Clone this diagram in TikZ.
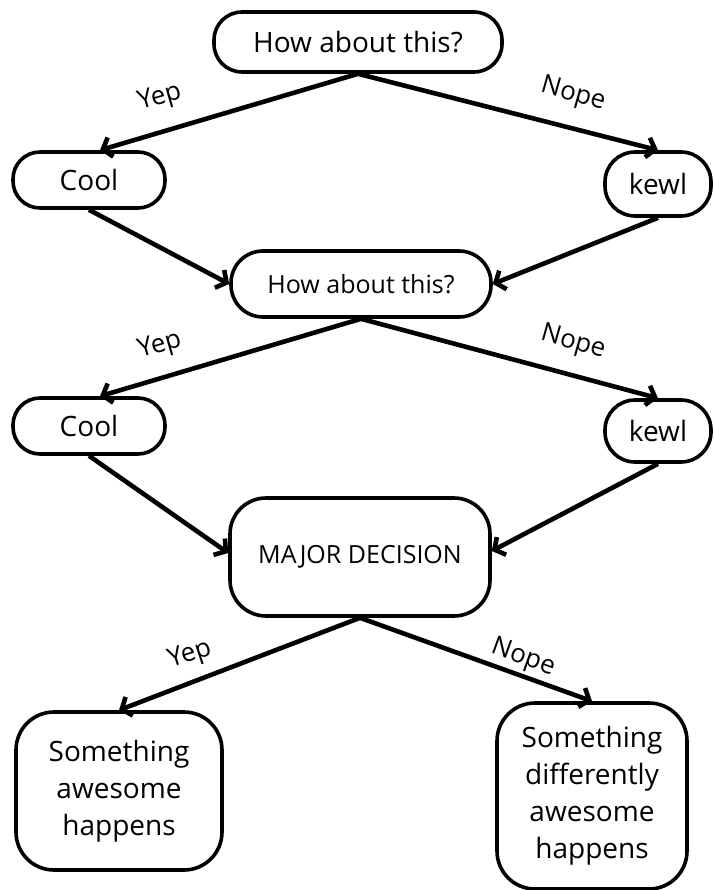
\documentclass[tikz,border=0pt]{standalone}
\usepackage{fontspec}
\setmainfont{Open Sans}
\usetikzlibrary{arrows.meta,calc}
\begin{document}
\begin{tikzpicture}[x=1pt,y=-1pt,
  box/.style={draw=black,line width=3.6pt,rounded corners=#1,inner sep=0pt,align=center},
  big/.style={font=\fontsize{28}{37}\selectfont},
  mid/.style={font=\fontsize{25}{33}\selectfont},
  lab/.style={font=\fontsize{26}{30}\selectfont,inner sep=1pt},
  arr/.style={line width=4.6pt,-{Straight Barb[length=8pt,width=20pt]}}]
\useasboundingbox (0,0) rectangle (713,890);
\node[box=28pt,big,minimum width=288pt,minimum height=60pt] (h1) at (358,42) {How about this?};
\node[box=27pt,big,minimum width=152pt,minimum height=56pt] (c1) at (89,180) {Cool};
\node[box=30pt,big,minimum width=106pt,minimum height=64pt] (k1) at (658,184) {kewl};
\node[box=32pt,mid,minimum width=260pt,minimum height=66pt] (h2) at (361,284) {How about this?};
\node[box=27pt,big,minimum width=152pt,minimum height=56pt] (c2) at (89,426) {Cool};
\node[box=30pt,big,minimum width=106pt,minimum height=62pt] (k2) at (658,431) {kewl};
\node[box=36pt,mid,minimum width=260pt,minimum height=118pt] (m) at (360,557) {MAJOR DECISION};
\node[box=38pt,big,minimum width=206pt,minimum height=158pt] (s1) at (119,791) {Something\\awesome\\happens};
\node[box=38pt,big,minimum width=190pt,minimum height=186pt] (s2) at (592,796) {Something\\differently\\awesome\\happens};
\draw[arr] (h1.south) -- ($(c1.north)+(11,0)$);
\draw[arr] (h1.south) -- (k1.north);
\draw[arr] (c1.south) -- (h2.west);
\draw[arr] (k1.south) -- (h2.east);
\draw[arr] (h2.south) -- ($(c2.north)+(11,0)$);
\draw[arr] (h2.south) -- (k2.north);
\draw[arr] (c2.south) -- ($(m.west)+(0,-4)$);
\draw[arr] (k2.south) -- ($(m.east)+(0,-6)$);
\draw[arr] (m.south) -- (s1.north);
\draw[arr] (m.south) -- (s2.north);
\node[lab,rotate=16] (y1) at (160,98) {Yep};
\node[lab,rotate=-16] (n1) at (573,95) {Nope};
\node[lab,rotate=16] (y2) at (160,346) {Yep};
\node[lab,rotate=-16] (n2) at (573,343) {Nope};
\node[lab,rotate=18] (y3) at (190,655) {Yep};
\node[lab,rotate=-20] (n3) at (523,658) {Nope};
\end{tikzpicture}
\end{document}
